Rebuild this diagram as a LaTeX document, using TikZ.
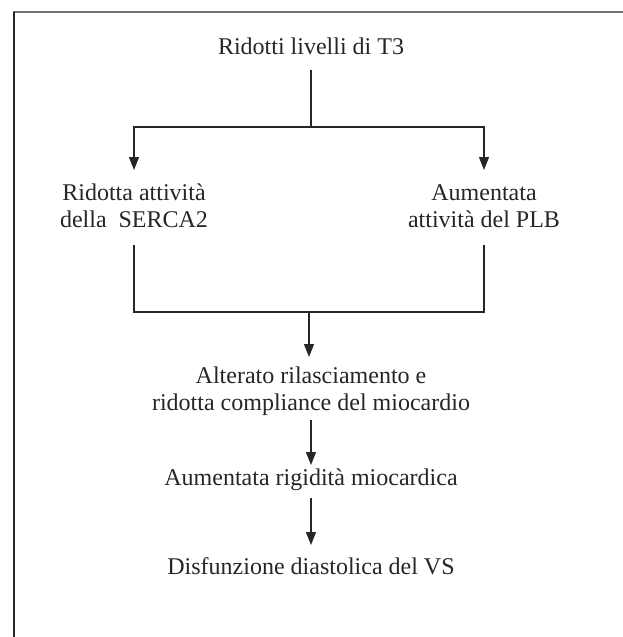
\documentclass[tikz,border=0pt]{standalone}
\usepackage{fontspec}
\setmainfont{Liberation Serif}
\usetikzlibrary{arrows.meta}
\begin{document}
\begin{tikzpicture}[x=1pt,y=-1pt,
  txt/.style={font=\fontsize{24}{27}\selectfont, align=center, inner xsep=0pt, inner ysep=0pt, text=black!85, anchor=base},
  conn/.style={line width=1.1pt, draw=black!85},
  arr/.style={conn, -{Triangle[width=10pt,length=13pt]}}]
\useasboundingbox (0,0) rectangle (623,637);
% frame
\draw[line width=1.6pt, draw=black!55] (13,12) -- (624,12);
\draw[line width=1.6pt, draw=black!85] (14,11.5) -- (14,638);
% nodes (anchor = baseline of last line)
\node[txt] (t) at (311,54) {Ridotti livelli di T3};
\node[txt] (l) at (134,227) {Ridotta attività\\della\ \ SERCA2};
\node[txt] (r) at (484,227) {Aumentata\\attività del PLB};
\node[txt] (m) at (311,410) {Alterato rilasciamento e\\ridotta compliance del miocardio};
\node[txt] (g) at (311,485) {Aumentata rigidità miocardica};
\node[txt] (d) at (311,574) {Disfunzione diastolica del VS};
% junctions
\coordinate (j1) at (311,127);
\coordinate (j2) at (309,312);
% connectors
\draw[conn] ([yshift=-16pt]t.base) -- (j1);
\draw[arr] (j1) -| ([yshift=57pt]l.base);
\draw[arr] (j1) -| ([yshift=57pt]r.base);
\draw[conn] ([yshift=-18pt]l.base) |- (j2);
\draw[conn] ([yshift=-18pt]r.base) |- (j2);
\draw[arr] (j2) -- ([yshift=53pt]m.base -| j2);
\draw[arr] ([yshift=-10pt]m.base) -- ([yshift=20pt]g.base);
\draw[arr] ([yshift=-13pt]g.base) -- ([yshift=29pt]d.base);
\end{tikzpicture}
\end{document}
